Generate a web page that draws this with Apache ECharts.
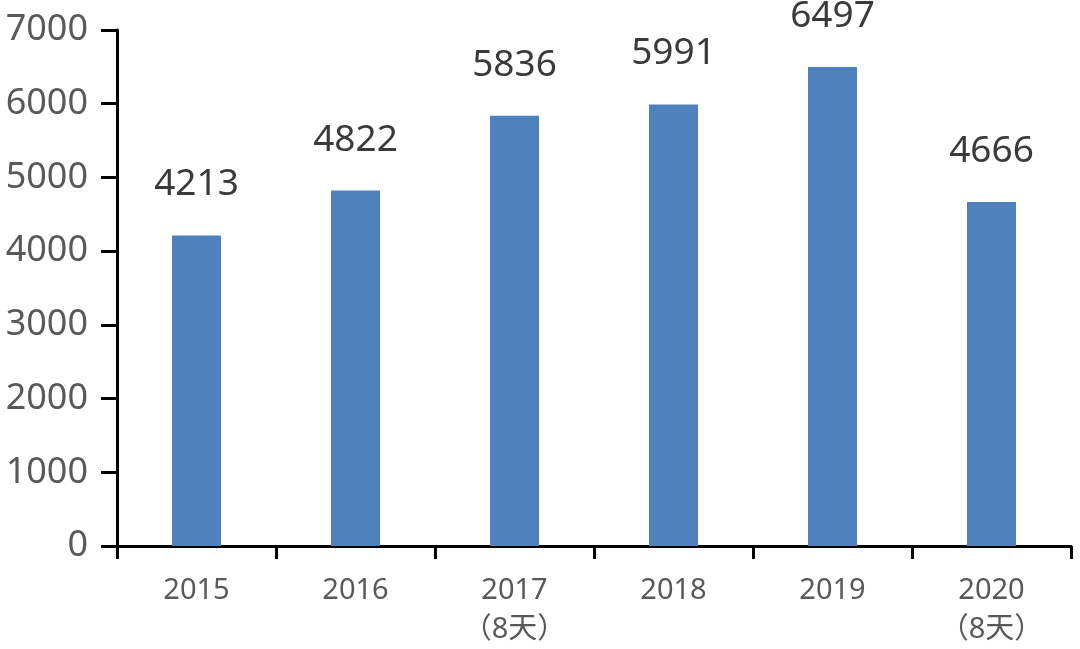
<!DOCTYPE html>
<html>
<head>
<meta charset="utf-8">
<script src="https://cdn.jsdelivr.net/npm/echarts@6/dist/echarts.min.js"></script>
<style>html,body{margin:0;padding:0;background:#fff}#c{width:1080px;height:649px}</style>
</head>
<body>
<div id="c"></div>
<script>
const categories = ['2015', '2016', '2017\n（8天）', '2018', '2019', '2020\n（8天）'];
const values = [4213, 4822, 5836, 5991, 6497, 4666];
const yMin = 0, yMax = 7000, yStep = 1000;

const chart = echarts.init(document.getElementById('c'));
chart.setOption({
  animation: false,
  backgroundColor: '#fff',
  grid: { left: 117, right: 9, top: 30, bottom: 99, containLabel: false },
  xAxis: {
    type: 'category',
    data: categories,
    axisLine: { lineStyle: { color: '#000', width: 3 } },
    axisTick: { show: true, length: 13, lineStyle: { color: '#000', width: 3 } },
    axisLabel: { color: '#595959', fontSize: 29, lineHeight: 39, margin: 25, fontFamily: 'Noto Sans, Noto Sans CJK SC, sans-serif' }
  },
  yAxis: {
    type: 'value',
    min: yMin, max: yMax, interval: yStep,
    axisLine: { show: true, lineStyle: { color: '#000', width: 3 } },
    axisTick: { show: true, length: 16, lineStyle: { color: '#000', width: 3 } },
    splitLine: { show: false },
    axisLabel: { color: '#595959', fontSize: 36, margin: 29, fontFamily: 'Noto Sans, sans-serif', formatter: function (v) { return String(v); } }
  },
  series: [{
    type: 'bar',
    data: values,
    barWidth: 49,
    itemStyle: { color: '#4F81BD' },
    label: { show: true, position: 'top', distance: 32, color: '#3a3a3a', fontSize: 37, fontFamily: 'Noto Sans, sans-serif' }
  }]
});
</script>
</body>
</html>
